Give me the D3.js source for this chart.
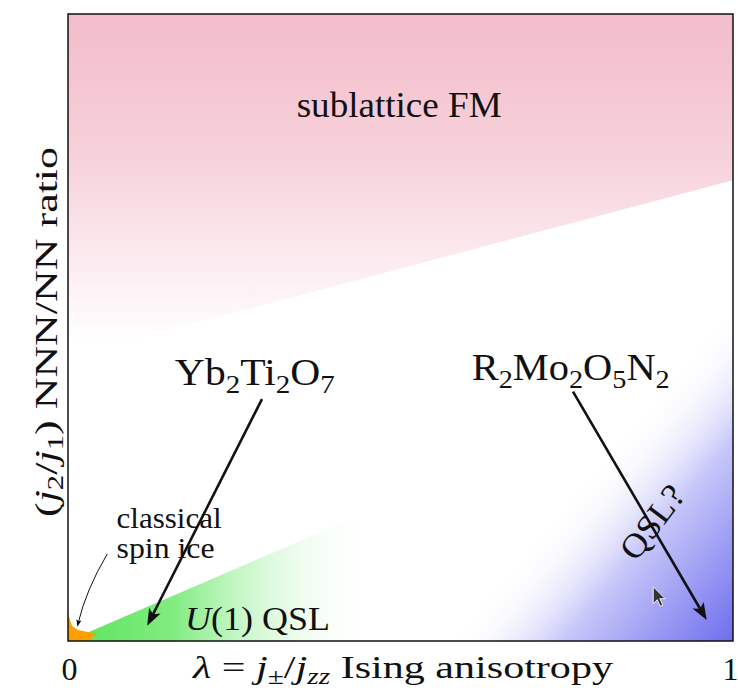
<!DOCTYPE html>
<html>
<head>
<meta charset="utf-8">
<script src="https://cdn.jsdelivr.net/npm/d3@7"></script>
<style>
  html, body { margin: 0; padding: 0; background: #fff; }
  svg { display: block; }
  text { font-family: "Liberation Serif", "Times New Roman", serif; fill: #111; }
</style>
</head>
<body>
<svg id="chart" width="738" height="692"></svg>
<script>
// ---- data (phase-diagram coordinates: x = lambda in [0,1], y = j2/j1 ratio, normalised 0..1) ----
const xTickValues = [0, 1];
const xTickLabels = ["0", "1"];
const pinkRegion   = [[0, 1], [1, 1], [1, 0.735], [0, 0.453]];
const greenRegion  = [[0, 0], [0.47, 0], [0.47, 0.215]];
const blueRegion   = [[0.57, 0], [1, 0], [1, 0.54]];
const orangeRegion = [[0, 0.0447], [0.006, 0.0239], [0.015, 0.0175], [0.0436, 0.0112], [0.0301, 0], [0, 0]];
const arrowFrom = [[0.2917, 0.3859], [0.7594, 0.3976]];
const arrowTo   = [[0.1191, 0.0243], [0.9604, 0.0335]];
const spinIceArrow = [[0.0590, 0.1388], [0.0271, 0.0813], [0.0140, 0.0228]];
const regionLabels = ["sublattice FM", "QSL?"];
const materialLabels = [
  [{t: "Yb"}, {t: "2", s: 1}, {t: "Ti"}, {t: "2", s: 1}, {t: "O"}, {t: "7", s: 1}],
  [{t: "R"}, {t: "2", s: 1}, {t: "Mo"}, {t: "2", s: 1}, {t: "O"}, {t: "5", s: 1}, {t: "N"}, {t: "2", s: 1}]
];
const materialPos = [[0.281, 0.408], [0.756, 0.416]];
const materialWidth = [160, 198];
const u1Label = [{t: "U", i: 1}, {t: "(1) QSL"}];
const spinIceLines = ["classical", "spin ice"];
const spinIceWidth = [105, 98];
const xLabel = [{t: "λ", i: 1}, {t: " = "}, {t: "j", i: 1}, {t: "±", s: 1}, {t: "/"}, {t: "j", i: 1}, {t: "zz", s: 1, i: 1}, {t: " Ising anisotropy"}];
const yLabel = [{t: "("}, {t: "j", i: 1}, {t: "2", s: 1}, {t: "/"}, {t: "j", i: 1}, {t: "1", s: 1}, {t: ") NNN/NN ratio"}];
const cursorAt = [0.880, 0.0866];

// ---- layout ----
const svg = d3.select("#chart");
const x = d3.scaleLinear().domain([0, 1]).range([68, 733]);
const y = d3.scaleLinear().domain([0, 1]).range([641, 14]);
const defs = svg.append("defs");

// gradients
const gPink = defs.append("linearGradient").attr("id", "gPink")
  .attr("gradientUnits", "userSpaceOnUse")
  .attr("x1", 0).attr("y1", y(1)).attr("x2", 0).attr("y2", y(0.48));
gPink.append("stop").attr("offset", 0).attr("stop-color", "rgb(243,188,202)");
gPink.append("stop").attr("offset", 0.45).attr("stop-color", "rgb(247,210,219)");
gPink.append("stop").attr("offset", 0.8).attr("stop-color", "rgb(252,238,242)");
gPink.append("stop").attr("offset", 1).attr("stop-color", "#fff");

const gGreen = defs.append("linearGradient").attr("id", "gGreen")
  .attr("gradientUnits", "userSpaceOnUse")
  .attr("x1", x(0)).attr("y1", 0).attr("x2", x(0.46)).attr("y2", 0);
gGreen.append("stop").attr("offset", 0).attr("stop-color", "rgb(90,228,90)");
gGreen.append("stop").attr("offset", 0.35).attr("stop-color", "rgb(130,236,130)");
gGreen.append("stop").attr("offset", 1).attr("stop-color", "rgb(255,255,255)").attr("stop-opacity", 0);

// blue: gradient perpendicular to its zero line, reaching full strength at the corner
(function () {
  const p1 = [x(blueRegion[0][0]), y(blueRegion[0][1])];
  const p2 = [x(blueRegion[2][0]), y(blueRegion[2][1])];
  const c = [x(1), y(0)];
  const dx = p2[0] - p1[0], dy = p2[1] - p1[1];
  const t = ((c[0] - p1[0]) * dx + (c[1] - p1[1]) * dy) / (dx * dx + dy * dy);
  const f = [p1[0] + t * dx, p1[1] + t * dy];
  const gBlue = defs.append("linearGradient").attr("id", "gBlue")
    .attr("gradientUnits", "userSpaceOnUse")
    .attr("x1", f[0]).attr("y1", f[1]).attr("x2", c[0]).attr("y2", c[1]);
  gBlue.append("stop").attr("offset", 0).attr("stop-color", "#fff").attr("stop-opacity", 0);
  gBlue.append("stop").attr("offset", 0.4).attr("stop-color", "rgb(200,200,250)");
  gBlue.append("stop").attr("offset", 1).attr("stop-color", "rgb(110,110,238)");
})();

const poly = d3.line().x(d => x(d[0])).y(d => y(d[1]));
const clip = defs.append("clipPath").attr("id", "plotClip");
clip.append("rect").attr("x", x(0)).attr("y", y(1)).attr("width", x(1) - x(0)).attr("height", y(0) - y(1));

const regions = svg.append("g").attr("clip-path", "url(#plotClip)");
regions.append("path").attr("d", poly(pinkRegion) + "Z").attr("fill", "url(#gPink)");
regions.append("path").attr("d", poly(blueRegion) + "Z").attr("fill", "url(#gBlue)");
regions.append("path").attr("d", poly(greenRegion) + "Z").attr("fill", "url(#gGreen)");
regions.append("path").attr("d", poly(orangeRegion) + "Z").attr("fill", "rgb(255,158,0)");

// plot frame
svg.append("rect").attr("x", x(0)).attr("y", y(1)).attr("width", x(1) - x(0)).attr("height", y(0) - y(1))
  .attr("fill", "none").attr("stroke", "#111").attr("stroke-width", 1.5);

// axis ticks (labels only)
const xAxis = d3.axisBottom(x).tickValues(xTickValues).tickSize(0).tickPadding(16)
  .tickFormat((d, i) => xTickLabels[i]);
const gx = svg.append("g").attr("transform", `translate(0,${y(0)})`).call(xAxis);
gx.select(".domain").remove();
gx.selectAll("text").attr("font-family", "Liberation Serif, serif").attr("font-size", 32).attr("fill", "#111")
  .attr("dx", d => d === 1 ? -3 : 1);

// rich text helper
function rich(sel, segs, size) {
  let shifted = false;
  segs.forEach(sg => {
    const ts = sel.append("tspan").text(sg.t);
    if (sg.i) ts.attr("font-style", "italic");
    if (sg.s && !shifted) { ts.attr("font-size", size * 0.7).attr("dy", size * 0.2); shifted = true; }
    else if (sg.s && shifted) { ts.attr("font-size", size * 0.7); }
    else if (!sg.s && shifted) { ts.attr("dy", -size * 0.2); shifted = false; }
  });
  return sel;
}
function fit(sel, w) { return sel.attr("textLength", w).attr("lengthAdjust", "spacingAndGlyphs"); }

// axis titles
fit(rich(svg.append("text").attr("x", 403).attr("y", 678).attr("text-anchor", "middle").attr("font-size", 32), xLabel, 32), 420);
fit(rich(svg.append("text").attr("transform", "translate(57,332) rotate(-90)").attr("text-anchor", "middle").attr("font-size", 32), yLabel, 32), 370);

// region labels
fit(svg.append("text").attr("x", x(0.498)).attr("y", y(0.835)).attr("text-anchor", "middle")
  .attr("font-size", 35).text(regionLabels[0]), 205);
fit(svg.append("text").attr("transform", `translate(${x(0.878)},${y(0.19)}) rotate(-53)`)
  .attr("text-anchor", "middle").attr("dy", "0.35em").attr("font-size", 34).text(regionLabels[1]), 84);
fit(rich(svg.append("text").attr("x", x(0.176)).attr("y", y(0.0175)).attr("font-size", 34), u1Label, 34), 145);
spinIceLines.forEach((s, i) => {
  fit(svg.append("text").attr("x", x(0.073)).attr("y", y(i === 0 ? 0.180 : 0.132)).attr("font-size", 29).text(s), spinIceWidth[i]);
});
materialLabels.forEach((segs, i) => {
  fit(rich(svg.append("text").attr("x", x(materialPos[i][0])).attr("y", y(materialPos[i][1]))
    .attr("text-anchor", "middle").attr("font-size", 37), segs, 37), materialWidth[i]);
});

// arrows
function head(g, tip, ang, len, hw, back) {
  g.append("path")
    .attr("d", `M0,0 L${-len},${-hw} L${-len + back},0 L${-len},${hw} Z`)
    .attr("transform", `translate(${tip[0]},${tip[1]}) rotate(${ang * 180 / Math.PI})`)
    .attr("fill", "#111");
}
const ag = svg.append("g");
arrowFrom.forEach((f, i) => {
  const p0 = [x(f[0]), y(f[1])], p1 = [x(arrowTo[i][0]), y(arrowTo[i][1])];
  const ang = Math.atan2(p1[1] - p0[1], p1[0] - p0[0]);
  const end = [p1[0] - 9 * Math.cos(ang), p1[1] - 9 * Math.sin(ang)];
  ag.append("line").attr("x1", p0[0]).attr("y1", p0[1]).attr("x2", end[0]).attr("y2", end[1])
    .attr("stroke", "#111").attr("stroke-width", 2.6);
  head(ag, p1, ang, 17, 6.5, 4);
});
// thin curved arrow to classical spin ice
(function () {
  const P = spinIceArrow.map(d => [x(d[0]), y(d[1])]);
  const ang = Math.atan2(P[2][1] - P[1][1], P[2][0] - P[1][0]);
  const end = [P[2][0] - 4 * Math.cos(ang), P[2][1] - 4 * Math.sin(ang)];
  const p = d3.path(); p.moveTo(P[0][0], P[0][1]); p.quadraticCurveTo(P[1][0], P[1][1], end[0], end[1]);
  ag.append("path").attr("d", p.toString()).attr("fill", "none").attr("stroke", "#111").attr("stroke-width", 1);
  head(ag, P[2], ang, 7, 2.6, 1.5);
})();

// mouse cursor seen in the picture
svg.append("path")
  .attr("d", "M0,0 L0,17 L4,13 L7,19.5 L9.6,18.4 L6.6,12 L12,12 Z")
  .attr("transform", `translate(${x(cursorAt[0])},${y(cursorAt[1])})`)
  .attr("fill", "#333").attr("stroke", "#eee").attr("stroke-width", 1);
</script>
</body>
</html>
